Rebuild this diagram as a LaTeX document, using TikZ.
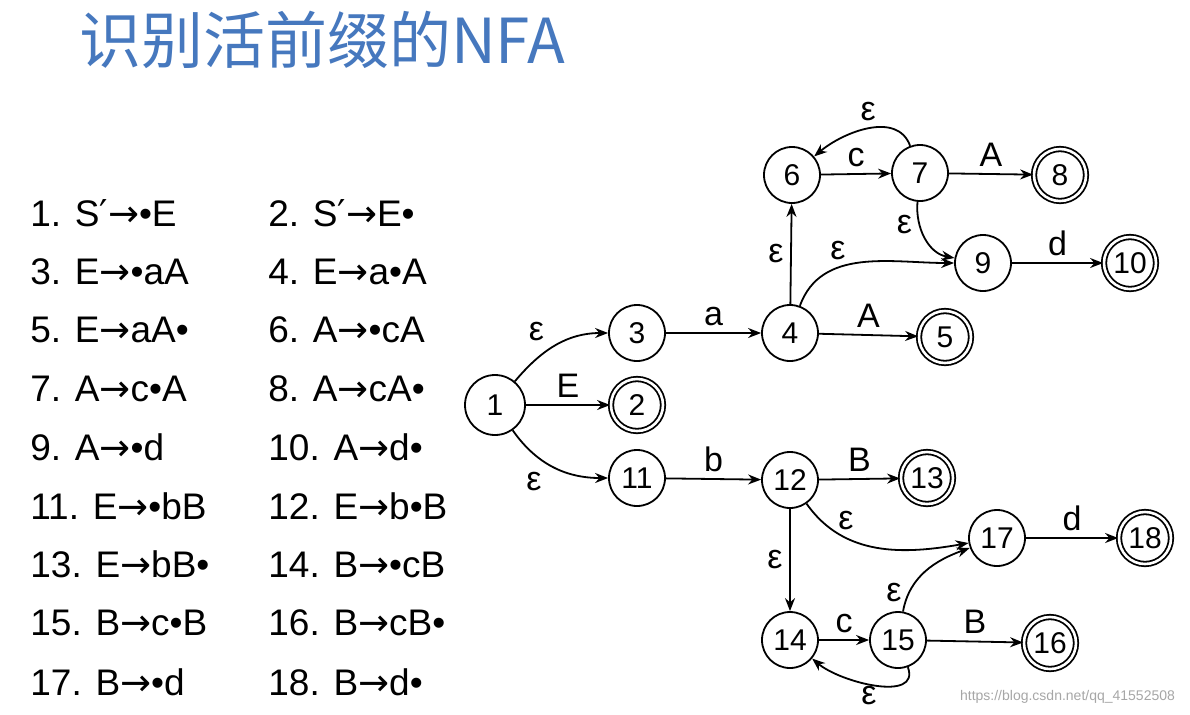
\documentclass[tikz,border=0pt]{standalone}
\usepackage{fontspec}
\setmainfont{Liberation Sans}
\newfontfamily\cjk{Noto Sans CJK SC}
\newfontfamily\dv{DejaVu Sans}
\newcommand{\ar}{{\dv\char"2192}}
\newcommand{\pr}{{\dv\char"2032}}
\usetikzlibrary{arrows.meta}
\begin{document}
\begin{tikzpicture}[x=0.5pt,y=-0.5pt,
  st/.style={circle,draw,line width=0.9pt,minimum size=28pt,inner sep=0pt,font=\fontsize{15}{15}\selectfont},
  fin/.style={st,double,double distance=1.3pt,minimum size=26pt},
  ed/.style={-{Stealth[length=6.5pt,width=5pt]},line width=0.9pt},
  lb/.style={font=\fontsize{17}{17}\selectfont},
  it/.style={anchor=west,font=\fontsize{18.5}{18.5}\selectfont,inner sep=0pt}]
\useasboundingbox (0,0) rectangle (1190,714);
\node[anchor=west,font=\cjk\fontsize{31}{31}\selectfont,text={rgb,255:red,70;green,120;blue,190}] (title) at (72,40) {识别活前缀的NFA};
% list
\foreach \a/\b [count=\i] in {{1. S\pr\ar•E}/{2. S\pr\ar E•},{3. E\ar•aA}/{4. E\ar a•A},{5. E\ar aA•}/{6. A\ar•cA},{7. A\ar c•A}/{8. A\ar cA•},{9. A\ar•d}/{10. A\ar d•},{11. E\ar•bB}/{12. E\ar b•B},{13. E\ar bB•}/{14. B\ar•cB},{15. B\ar c•B}/{16. B\ar cB•},{17. B\ar•d}/{18. B\ar d•}}{
  \node[it] (l\i a) at (30,{213+58.6*(\i-1)}) {\a};
  \node[it] (l\i b) at (268,{213+58.6*(\i-1)}) {\b};
}
% states
\node[st,minimum size=30pt] (n1) at (495,405) {1};
\node[fin] (n2) at (637,405) {2};
\node[st] (n3) at (637,333) {3};
\node[st] (n4) at (790,333) {4};
\node[fin] (n5) at (945,337) {5};
\node[st] (n6) at (792,175) {6};
\node[st] (n7) at (920,173) {7};
\node[fin] (n8) at (1060,175) {8};
\node[st] (n9) at (983,263) {9};
\node[fin] (n10) at (1130,263) {10};
\node[st] (n11) at (637,478) {11};
\node[st] (n12) at (790,480) {12};
\node[fin] (n13) at (927,478) {13};
\node[st] (n17) at (997,538) {17};
\node[fin] (n18) at (1145,538) {18};
\node[st] (n14) at (790,640) {14};
\node[st] (n15) at (898,640) {15};
\node[fin] (n16) at (1050,643) {16};
% edges
\draw[ed] (n1) to[out=50,in=180] node[lb,above left,pos=0.45] {ε} (n3);
\draw[ed] (n1) -- node[lb,above] {E} (n2);
\draw[ed] (n1) to[out=-55,in=180] node[lb,below left,pos=0.45] {ε} (n11);
\draw[ed] (n3) -- node[lb,above] {a} (n4);
\draw[ed] (n4) -- node[lb,above] {A} (n5);
\draw[ed] (n4) -- node[lb,left] {ε} (n6);
\draw[ed] (n4) to[out=70,in=180] node[lb,above,pos=0.35] {ε} (n9);
\draw[ed] (n6) -- node[lb,above] {c} (n7);
\draw[ed] (n7) to[out=110,in=40] node[lb,above] {ε} (n6);
\draw[ed] (n7) -- node[lb,above] {A} (n8);
\draw[ed] (n7) to[out=-95,in=170] node[lb,left,pos=0.3] {ε} (n9);
\draw[ed] (n9) -- node[lb,above] {d} (n10);
\draw[ed] (n11) -- node[lb,above] {b} (n12);
\draw[ed] (n12) -- node[lb,above] {B} (n13);
\draw[ed] (n12) to[out=-55,in=190] node[lb,above,pos=0.3] {ε} (n17);
\draw[ed] (n12) -- node[lb,left] {ε} (n14);
\draw[ed] (n14) -- node[lb,above] {c} (n15);
\draw[ed] (n15) -- node[lb,above] {B} (n16);
\draw[ed] (n15) to[out=80,in=200] node[lb,left,pos=0.2] {ε} (n17);
\draw[ed] (n15) to[out=-70,in=-40] node[lb,below,pos=0.55,inner sep=0.5pt] {ε} (n14);
\draw[ed] (n17) -- node[lb,above] {d} (n18);
\node[anchor=east,text=black!35,font=\fontsize{7}{7}\selectfont] (wm) at (1182,697) {https://blog.csdn.net/qq\_41552508};
\end{tikzpicture}
\end{document}
